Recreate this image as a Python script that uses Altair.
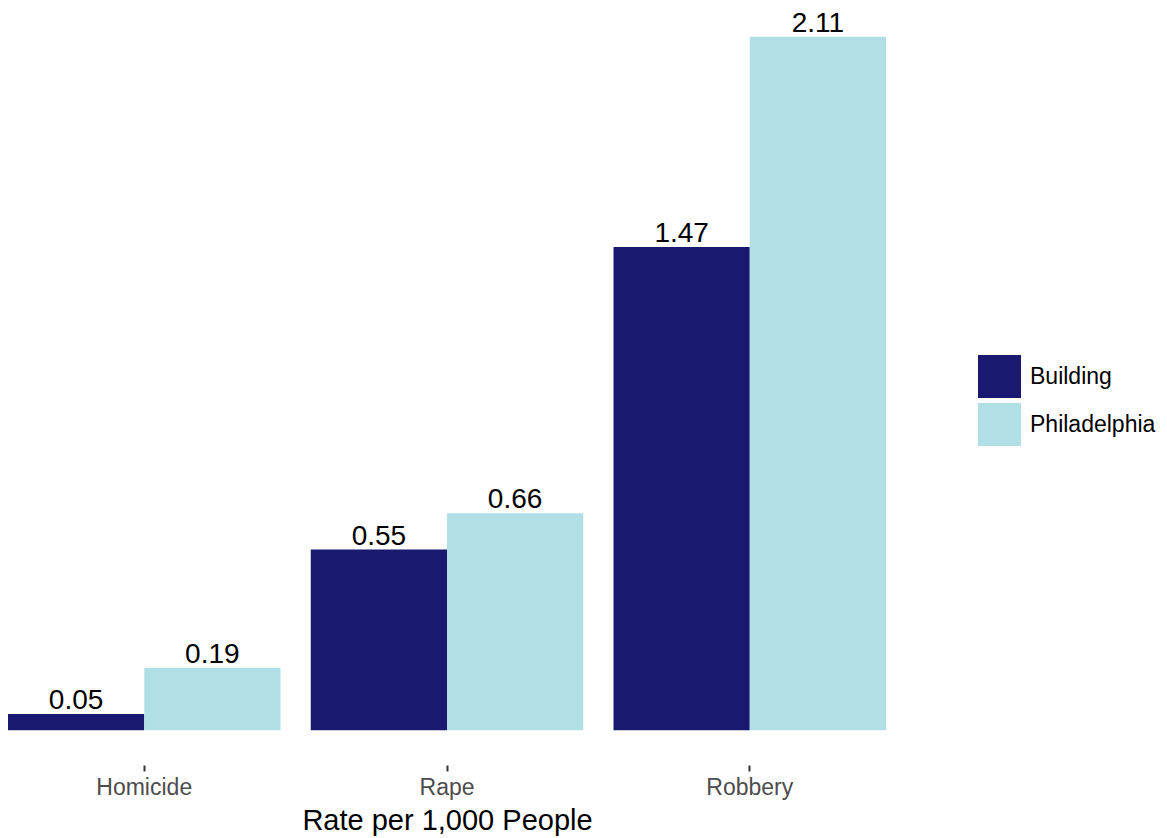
import altair as alt
import pandas as pd

categories = ["Homicide", "Rape", "Robbery"]
building = [0.05, 0.55, 1.47]
philadelphia = [0.19, 0.66, 2.11]
series = ["Building", "Philadelphia"]
colors = ["#191970", "#B0E0E6"]

rows = []
for c, b, p in zip(categories, building, philadelphia):
    rows.append({"crime": c, "group": "Building", "rate": b})
    rows.append({"crime": c, "group": "Philadelphia", "rate": p})
df = pd.DataFrame(rows)

FONT = "Liberation Sans"

x_enc = alt.X(
    "crime:N",
    sort=categories,
    scale=alt.Scale(paddingInner=0.1, paddingOuter=0),
    axis=alt.Axis(
        title="Rate per 1,000 People",
        labelAngle=0,
        domain=False,
        ticks=True,
        tickSize=6,
        tickWidth=2,
        tickColor="#333333",
        labelColor="#4D4D4D",
        labelFontSize=23,
        labelFont=FONT,
        labelPadding=5,
        titleFont=FONT,
        titleFontSize=29,
        titleFontWeight="normal",
        titleColor="#000000",
        titleBaseline="alphabetic",
        titleY=64,
        grid=False,
    ),
)
y_scale = alt.Scale(domain=[-0.1055, 2.2155], nice=False, zero=False)
xoff = alt.XOffset("group:N", sort=series, scale=alt.Scale(paddingInner=0, paddingOuter=0))

bars = alt.Chart(df).mark_bar().encode(
    x=x_enc,
    xOffset=xoff,
    y=alt.Y("rate:Q", scale=y_scale, axis=None),
    y2=alt.datum(0),
    color=alt.Color(
        "group:N",
        sort=series,
        scale=alt.Scale(domain=series, range=colors),
        legend=alt.Legend(
            title=None,
            orient="none",
            legendX=970,
            legendY=353,
            symbolType="square",
            symbolSize=1849,
            symbolStrokeWidth=0,
            symbolOpacity=1,
            labelFont=FONT,
            labelFontSize=23,
            labelColor="#000000",
            labelOffset=9,
            rowPadding=5,
        ),
    ),
)

labels = alt.Chart(df).mark_text(
    baseline="alphabetic", dy=-5, fontSize=28, font=FONT, color="#000000"
).encode(
    x=alt.X("crime:N", sort=categories),
    xOffset=xoff,
    y=alt.Y("rate:Q", scale=y_scale),
    text=alt.Text("rate:Q", format=".2f"),
)

chart = (
    alt.layer(bars, labels)
    .properties(
        width=878,
        height=763,
        autosize=alt.AutoSizeParams(type="none"),
        padding={"left": 8, "top": 2, "right": 281, "bottom": 73},
    )
    .configure_view(strokeWidth=0)
)

chart.save("out.html", embed_options={"renderer": "svg", "actions": False})
